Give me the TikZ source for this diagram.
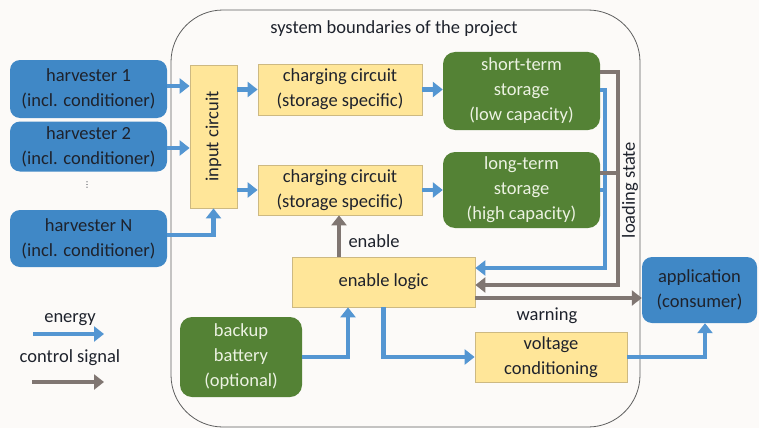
\documentclass[tikz,border=0pt]{standalone}
\usepackage{fontspec}
\setmainfont{Carlito}
\newfontfamily\djv{DejaVu Sans}
\usetikzlibrary{arrows.meta}
\definecolor{bgc}{RGB}{252,250,248}
\definecolor{boxblue}{RGB}{64,136,198}
\definecolor{arrblue}{RGB}{84,150,210}
\definecolor{arrgray}{RGB}{128,118,114}
\definecolor{boxgreen}{RGB}{84,130,53}
\definecolor{greentext}{RGB}{236,242,226}
\definecolor{boxyellow}{RGB}{255,230,153}
\definecolor{yellowline}{RGB}{205,185,130}
\definecolor{darktext}{RGB}{30,34,44}
\definecolor{boundline}{RGB}{95,95,95}
\tikzset{
  bluebox/.style={rectangle, rounded corners=10pt, fill=boxblue, text=darktext, align=center, inner sep=0pt},
  greenbox/.style={rectangle, rounded corners=12pt, fill=boxgreen, text=greentext, align=center, inner sep=0pt},
  yellowbox/.style={rectangle, fill=boxyellow, draw=yellowline, line width=0.8pt, text=darktext, align=center, inner sep=0pt},
  energy/.style={draw=arrblue, line width=4.5pt, -{Triangle[length=10pt,width=15pt]}},
  energyline/.style={draw=arrblue, line width=4.5pt},
  ctrl/.style={draw=arrgray, line width=4.5pt, -{Triangle[length=10pt,width=15pt]}},
  ctrlline/.style={draw=arrgray, line width=4.5pt},
  lbl/.style={text=darktext, inner sep=0pt}
}
\begin{document}
\begin{tikzpicture}[x=1pt,y=-1pt,font=\fontsize{18.5}{25}\selectfont]
\useasboundingbox (0,0) rectangle (759,428);
\fill[bgc] (0,0) rectangle (759,428);
% system boundary
\draw[boundline, line width=0.8pt, rounded corners=52pt] (171,10) rectangle (640,427);
\node[lbl] (title) at (394,29) {system boundaries of the project};

% nodes
\node[bluebox, minimum width=157pt, minimum height=58pt] (h1) at (88.5,89) {harvester 1\\(incl. conditioner)};
\node[bluebox, minimum width=157pt, minimum height=50pt] (h2) at (88.5,146.5) {harvester 2\\(incl. conditioner)};
\node[lbl, font=\djv\fontsize{8}{8}\selectfont] (dots) at (87,185) {⋮};
\node[bluebox, minimum width=157pt, minimum height=57pt] (hN) at (88.5,238.5) {harvester N\\(incl. conditioner)};

\node[yellowbox, rotate=90, minimum width=143pt, minimum height=47pt] (input) at (213.5,136.5) {input circuit};
\node[yellowbox, minimum width=164pt, minimum height=51pt] (cc1) at (340,89.5) {charging circuit\\(storage specific)};
\node[yellowbox, minimum width=164pt, minimum height=50pt] (cc2) at (340,190) {charging circuit\\(storage specific)};
\node[greenbox, minimum width=157pt, minimum height=78pt] (st) at (521.5,91) {short-term\\storage\\(low capacity)};
\node[greenbox, minimum width=157pt, minimum height=76pt] (lt) at (521.5,190) {long-term\\storage\\(high capacity)};
\node[yellowbox, minimum width=183pt, minimum height=50pt] (el) at (383.5,282) {enable logic};
\node[yellowbox, minimum width=152pt, minimum height=50pt] (vc) at (551,357) {voltage\\conditioning};
\node[greenbox, minimum width=122pt, minimum height=80pt] (bb) at (241,357) {backup\\battery\\(optional)};
\node[bluebox, minimum width=115pt, minimum height=66pt] (app) at (699.5,290) {application\\(consumer)};

\node[lbl, rotate=90] (ls) at (630,190) {loading state};
\node[lbl] (enlbl) at (374,241) {enable};
\node[lbl] (warnlbl) at (547,316) {warning};

% bend coordinates
\coordinate (bj) at (605,90);
\coordinate (gj) at (618,72);

% energy arrows
\draw[energy] (h1.east |- 0,86) -- (input.north |- 0,86);
\draw[energy] (h2.east |- 0,148) -- (input.north |- 0,148);
\draw[energy] (hN.east |- 0,235) -| (input.west);
\draw[energy] (input.south |- cc1.west) -- (cc1.west);
\draw[energy] (input.south |- cc2.west) -- (cc2.west);
\draw[energy] (cc1.east) -- (st.west |- cc1.east);
\draw[energy] (cc2.east) -- (lt.west |- cc2.east);
\draw[energy] (st.east |- bj) -- (bj) -- (bj |- 0,268) -- (el.east |- 0,268);
\draw[energyline] (lt.east |- 0,190) -- (bj |- 0,190);
\draw[energy] (el.south) |- (vc.west);
\draw[energy] (bb.east) -| (el.south -| 348,0);
\draw[energy] (vc.east) -| (app.south -| 705,0);

% control arrows
\draw[ctrl] (st.east |- gj) -- (gj) -- (gj |- 0,285) -- (el.east |- 0,285);
\draw[ctrlline] (lt.east |- 0,173) -- (gj |- 0,173);
\draw[ctrl] (el.north -| 339,0) -- (cc2.south -| 339,0);
\draw[ctrl] (el.east |- 0,298) -- (app.west |- 0,298);

% legend
\node[lbl] (legE) at (70,320) {energy};
\node[lbl] (legC) at (70,358) {control signal};
\coordinate (le1) at (33,334);
\coordinate (le2) at (104,334);
\coordinate (lc1) at (32,382);
\coordinate (lc2) at (104,382);
\draw[energy] (le1) -- (le2);
\draw[ctrl] (lc1) -- (lc2);
\end{tikzpicture}
\end{document}
